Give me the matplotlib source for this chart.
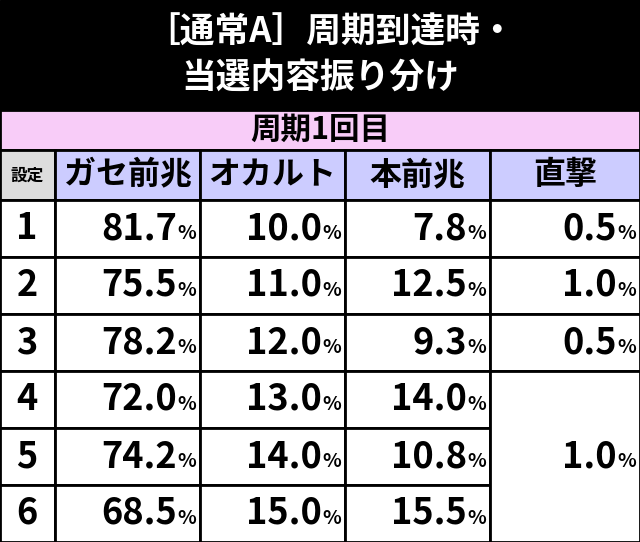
import matplotlib.pyplot as plt
from matplotlib.patches import Rectangle

title_lines = ["［通常A］周期到達時・", "当選内容振り分け"]
section = "周期1回目"
columns = ["ガセ前兆", "オカルト", "本前兆", "直撃"]
settings = ["1", "2", "3", "4", "5", "6"]
gase = ["81.7", "75.5", "78.2", "72.0", "74.2", "68.5"]
occult = ["10.0", "11.0", "12.0", "13.0", "14.0", "15.0"]
hon = ["7.8", "12.5", "9.3", "14.0", "10.8", "15.5"]
choku = ["0.5", "1.0", "0.5", "1.0"]  # last value covers settings 4-6

font = "Noto Sans CJK JP"
W, H = 640, 542
fig = plt.figure(figsize=(W / 100, H / 100), dpi=100)
ax = fig.add_axes([0, 0, 1, 1])
ax.set_xlim(0, W)
ax.set_ylim(H, 0)
ax.axis("off")

# title band
ax.add_patch(Rectangle((0, 0), W, 110, color="black"))
ax.text(W / 2 + 10, 32, title_lines[0], color="white", fontsize=25, fontweight="bold",
        ha="center", va="center", family=font)
ax.text(W / 2, 78, title_lines[1], color="white", fontsize=25, fontweight="bold",
        ha="center", va="center", family=font)

# section row
ax.add_patch(Rectangle((0, 110), W, 40, facecolor="#f8ccf8", edgecolor="black", lw=2))
ax.text(W / 2, 130, section, fontsize=22, fontweight="bold", ha="center", va="center", family=font)

xs = [0, 55, 200, 345, 490, W]
# header row
ax.add_patch(Rectangle((0, 150), 55, 50, facecolor="#dddddd", edgecolor="black", lw=2))
ax.text(27, 176, "設定", fontsize=12, fontweight="bold", ha="center", va="center", family=font)
for i, c in enumerate(columns):
    ax.add_patch(Rectangle((xs[i + 1], 150), xs[i + 2] - xs[i + 1], 50,
                           facecolor="#ccccff", edgecolor="black", lw=2))
    ax.text((xs[i + 1] + xs[i + 2]) / 2, 175, c, fontsize=23, fontweight="bold",
            ha="center", va="center", family=font)

row_h = (H - 200) / 6
def pct(xr, y, val):
    ax.text(xr - 23, y, val, fontsize=26, fontweight="bold", ha="right", va="center", family=font)
    ax.text(xr - 23, y + 5, "%", fontsize=14, fontweight="bold", ha="left", va="center", family=font)

for r, s in enumerate(settings):
    y0 = 200 + r * row_h
    yc = y0 + row_h / 2
    for i in range(4):
        ax.add_patch(Rectangle((xs[i], y0), xs[i + 1] - xs[i], row_h,
                               facecolor="white", edgecolor="black", lw=2))
    ax.text(27, yc, s, fontsize=26, fontweight="bold", ha="center", va="center", family=font)
    pct(xs[2], yc, gase[r])
    pct(xs[3], yc, occult[r])
    pct(xs[4], yc, hon[r])
    if r < 3:
        ax.add_patch(Rectangle((xs[4], y0), xs[5] - xs[4], row_h,
                               facecolor="white", edgecolor="black", lw=2))
        pct(xs[5], yc, choku[r])

y0 = 200 + 3 * row_h
ax.add_patch(Rectangle((xs[4], y0), xs[5] - xs[4], 3 * row_h,
                       facecolor="white", edgecolor="black", lw=2))
pct(xs[5], y0 + 1.5 * row_h, choku[3])

fig.savefig("out.png", dpi=100)
